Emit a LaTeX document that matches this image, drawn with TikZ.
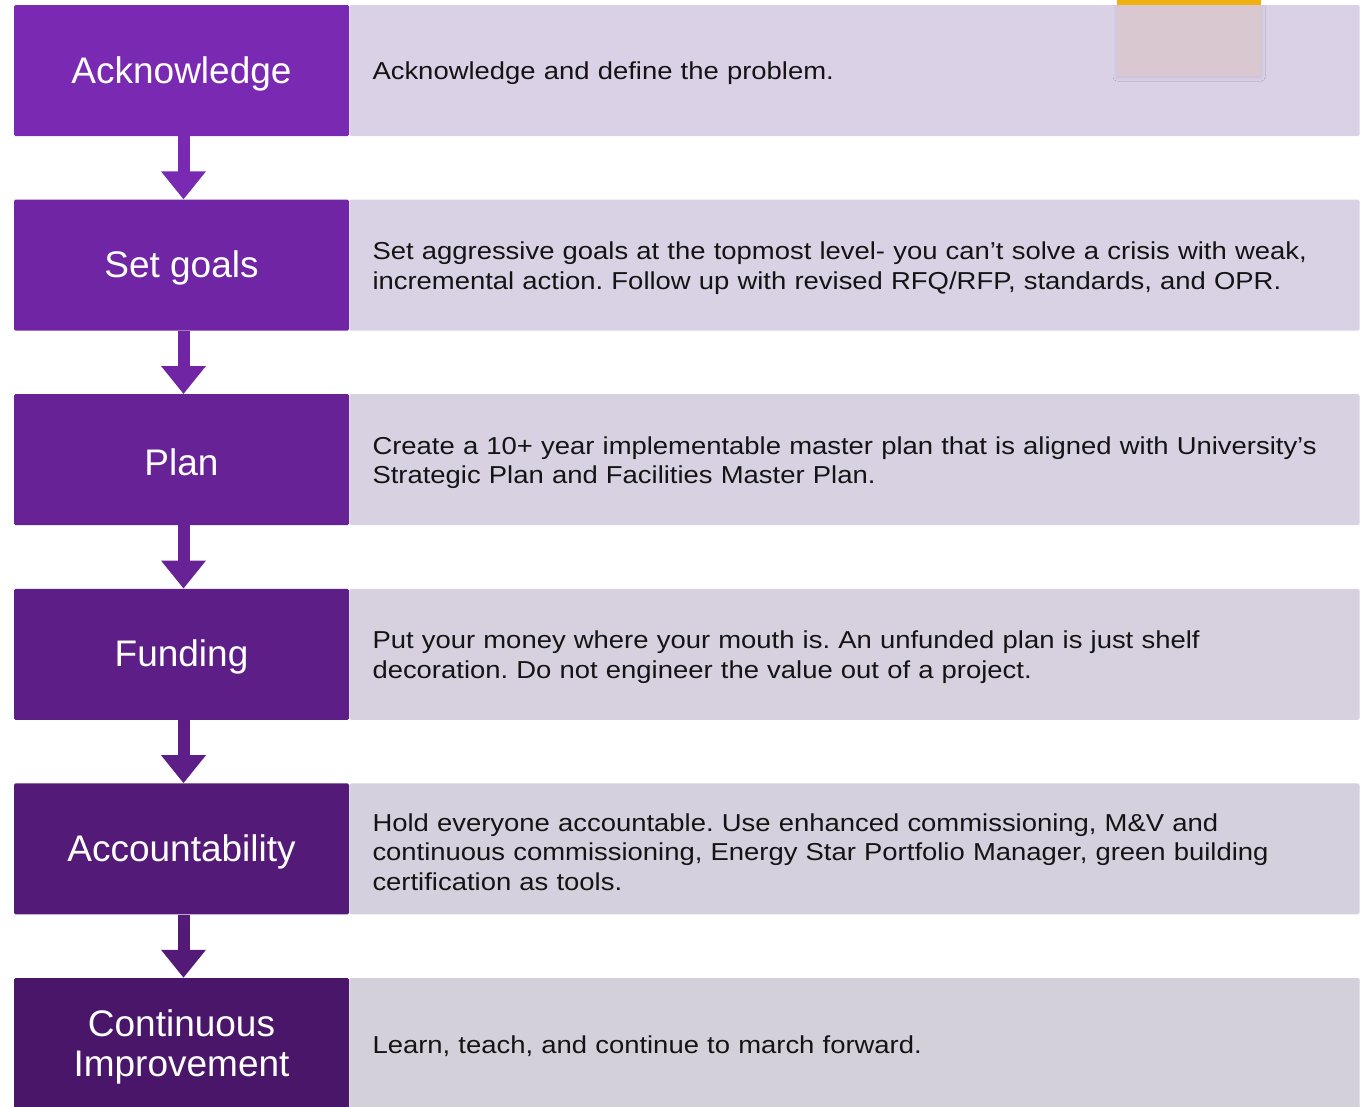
\documentclass[tikz,border=0pt]{standalone}
\usepackage{fontspec}
\setmainfont{Liberation Sans}
\newfontfamily\descfont[FakeStretch=1.12]{Liberation Sans}
\usetikzlibrary{arrows.meta,shadows.blur}
\definecolor{steptop}{RGB}{122,42,178}
\definecolor{stepbot}{RGB}{74,22,106}
\definecolor{desctop}{RGB}{218,209,231}
\definecolor{descbot}{RGB}{211,208,218}
\definecolor{tabgold}{RGB}{238,177,17}
\definecolor{tabpink}{RGB}{217,200,208}
\definecolor{desctext}{RGB}{20,20,20}
\frenchspacing
\begin{document}
\begin{tikzpicture}[x=1pt,y=-1pt,
  stepbox/.style={rectangle, rounded corners=1.5pt, minimum width=335pt, minimum height=131pt, inner sep=0pt},
  steptext/.style={text=white, font=\fontsize{37}{40}\selectfont, align=center, inner sep=0pt},
  descbox/.style={rectangle, rounded corners=1.5pt, minimum width=1010pt, minimum height=131pt, inner sep=0pt},
  desctextnode/.style={text width=964pt, inner sep=0pt, text=desctext,
    font=\descfont\fontsize{24.5}{29.5}\selectfont, align=left},
  flow/.style={line width=12pt, -{Triangle[width=43pt,length=28pt]}}]
\useasboundingbox (0,0) rectangle (1367,1106);
% left step boxes and right description boxes, colours graded top to bottom
\foreach \i/\p/\lab/\txt in {
  1/100/Acknowledge/{Acknowledge and define the problem.},
  2/80/Set goals/{Set aggressive goals at the topmost level- you can’t solve a crisis with weak,\\incremental action. Follow up with revised RFQ/RFP, standards, and OPR.},
  3/60/Plan/{Create a 10+ year implementable master plan that is aligned with University’s\\Strategic Plan and Facilities Master Plan.},
  4/40/Funding/{Put your money where your mouth is. An unfunded plan is just shelf\\decoration. Do not engineer the value out of a project.},
  5/20/Accountability/{Hold everyone accountable. Use enhanced commissioning, M\&V and\\continuous commissioning, Energy Star Portfolio Manager, green building\\certification as tools.},
  6/0/{Continuous\\Improvement}/{Learn, teach, and continue to march forward.}} {
  \pgfmathsetmacro{\cy}{70.5+194.6*(\i-1)}
  \node[stepbox, fill=steptop!\p!stepbot] (L\i) at (181.5,\cy) {};
  \node[descbox, fill=desctop!\p!descbot] (R\i) at (854.5,\cy) {};
  \node[steptext] (LT\i) at ([yshift=-3pt]L\i.center) {\lab};
  \node[desctextnode, anchor=west] (RT\i) at ([xshift=23pt,yshift=-3pt]R\i.west) {\txt};
}
% arrows between consecutive steps
\foreach \i/\j/\p in {1/2/100,2/3/80,3/4/60,4/5/40,5/6/20} {
  \draw[flow, draw=steptop!\p!stepbot, fill=steptop!\p!stepbot] ([xshift=2pt]L\i.south) -- ([xshift=2pt]L\j.north);
}
% small tab at the top right
\fill[tabpink, blur shadow={shadow blur steps=10, shadow blur radius=4pt, shadow xshift=0pt, shadow yshift=-1pt, shadow opacity=10}] (1117,5) rectangle (1261,76);
\fill[tabgold] (1117,0) rectangle (1261,5);
\end{tikzpicture}
\end{document}
